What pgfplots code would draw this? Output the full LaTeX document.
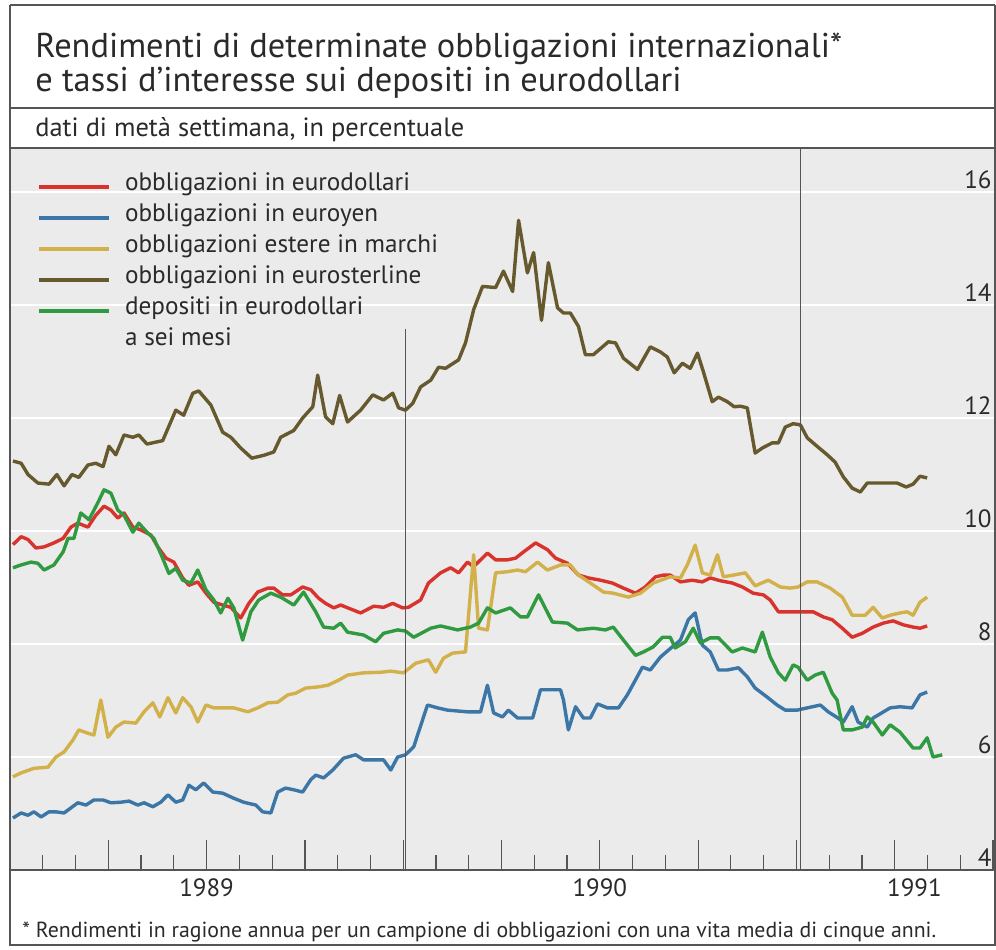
\documentclass[border=0pt]{standalone}
\usepackage{fontspec}
\setmainfont{PT Sans}
\usepackage{pgfplots}
\pgfplotsset{compat=1.18}

\definecolor{cRed}{HTML}{D8332C}
\definecolor{cBlue}{HTML}{3B76A6}
\definecolor{cGold}{HTML}{D2B04A}
\definecolor{cBrown}{HTML}{67592E}
\definecolor{cGreen}{HTML}{2F9A40}
\definecolor{bgGray}{HTML}{EBEBEB}
\definecolor{txt}{HTML}{2A2A2A}
\definecolor{rule}{HTML}{555555}

\begin{document}
\begin{tikzpicture}
\useasboundingbox (0pt,0pt) rectangle (498pt,-474.5pt);
% frame and separators (1 px = 0.5 pt)
\begin{scope}[x=0.5pt,y=-0.5pt]
\draw[rule, line width=0.7pt] (10,5) -- (995,5);
\draw[rule, line width=0.7pt] (10,5) -- (10,945) -- (995,945) -- (995,5);
\draw[rule, line width=0.7pt] (10,108) -- (995,108);
\node[anchor=base west, inner sep=0pt, text=txt, font=\fontsize{17.2}{20}\selectfont] at (35,57) {Rendimenti di determinate obbligazioni internazionali*};
\node[anchor=base west, inner sep=0pt, text=txt, font=\fontsize{17.2}{20}\selectfont] at (35,91) {e tassi d’interesse sui depositi in eurodollari};
\node[anchor=base west, inner sep=0pt, text=txt, font=\fontsize{13.2}{15}\selectfont] at (35,136) {dati di metà settimana, in percentuale};
\node[anchor=base west, inner sep=0pt, text=txt, font=\fontsize{10.9}{12}\selectfont] at (22,937) {* Rendimenti in ragione annua per un campione di obbligazioni con una vita media di cinque anni.};
\end{scope}

\begin{axis}[
  at={(5pt,-435pt)}, anchor=south west,
  scale only axis, width=492.5pt, height=361pt,
  xmin=0, xmax=30.06, ymin=4, ymax=16.78,
  axis background/.style={fill=bgGray},
  axis line style={draw=rule, line width=0.7pt},
  ymajorgrids, grid style={white, line width=1.1pt},
  ytick={4,6,...,16},
  ytick style={draw=none},
  yticklabel pos=right,
  /pgf/number format/assume math mode=true,
  yticklabel style={anchor=base east, inner sep=0pt, xshift=-1.5pt, yshift=2pt, text=txt, font=\fontsize{12.5}{14}\selectfont},
  xtick={0,3,...,30}, xticklabels={},
  minor x tick num=2,
  xtick pos=bottom, tick align=inside,
  major tick length=15pt, minor tick length=7.5pt,
  xtick style={draw=rule, line width=0.6pt},
  extra x ticks={6,18,27.6},
  extra x tick labels={1989,1990,1991},
  extra x tick style={major tick length=0pt, grid=none,
    tick label style={text=txt, font=\fontsize{12.5}{14}\selectfont, yshift=-1pt}},
  legend style={at={(0.021,0.972)}, anchor=north west, draw=none, fill=none,
    font=\fontsize{12.6}{14}\selectfont, text=txt,
    nodes={inner sep=0pt, text height=9pt, text depth=3pt, anchor=west},
    row sep=3.5pt, column sep=7pt},
  legend cell align=left,
  legend image code/.code={\draw[#1, line width=2pt] (0pt,-1pt) -- (35pt,-1pt);},
  every axis plot/.append style={line width=1.7pt, line join=round},
]
\addplot[cRed] coordinates {
(0.09,9.76)(0.34,9.9)(0.55,9.85)(0.79,9.7)(1.04,9.72)(1.34,9.79)(1.62,9.87)(1.86,10.07)(2.07,10.14)(2.38,10.07)
(2.62,10.28)(2.87,10.44)(3.08,10.37)(3.29,10.23)(3.48,10.32)(3.75,10.07)(3.99,10.02)(4.30,9.93)(4.51,9.72)(4.76,9.52)
(5.00,9.45)(5.27,9.17)(5.46,9.04)(5.73,9.1)(5.98,8.9)(6.22,8.74)(6.49,8.69)(6.74,8.65)(7.04,8.46)(7.29,8.72)
(7.56,8.92)(7.87,8.99)(8.05,8.99)(8.32,8.87)(8.57,8.87)(8.93,9.01)(9.18,8.96)(9.42,8.81)(9.63,8.72)(9.88,8.64)
(10.09,8.69)(10.18,8.67)(10.70,8.55)(11.10,8.67)(11.40,8.65)(11.68,8.72)(11.98,8.64)(12.16,8.65)(12.53,8.78)(12.77,9.08)
(13.14,9.26)(13.45,9.35)(13.69,9.26)(13.96,9.45)(14.15,9.37)(14.57,9.61)(14.82,9.49)(15.18,9.49)(15.43,9.52)(15.67,9.63)
(16.04,9.79)(16.40,9.67)(16.65,9.52)(17.01,9.43)(17.35,9.22)(17.65,9.17)(18.02,9.13)(18.38,9.08)(18.72,8.99)(19.09,8.9)
(19.39,9.01)(19.70,9.19)(19.94,9.22)(20.15,9.22)(20.46,9.1)(20.82,9.13)(21.13,9.1)(21.37,9.17)(21.68,9.12)(22.04,9.08)
(22.35,9.01)(22.68,8.9)(22.99,8.87)(23.20,8.78)(23.45,8.57)(23.75,8.57)(24.12,8.57)(24.51,8.57)(24.82,8.48)(25.09,8.43)
(25.40,8.28)(25.70,8.12)(26.01,8.19)(26.34,8.3)(26.65,8.37)(26.95,8.41)(27.26,8.34)(27.56,8.3)(27.77,8.28)(27.99,8.32)
};
\addlegendentry{obbligazioni in eurodollari}
\addplot[cBlue] coordinates {
(0.09,4.92)(0.34,5.01)(0.55,4.97)(0.73,5.03)(0.95,4.94)(1.19,5.03)(1.40,5.03)(1.65,5.01)(1.86,5.1)(2.07,5.19)
(2.32,5.15)(2.56,5.24)(2.84,5.24)(3.08,5.19)(3.38,5.2)(3.63,5.22)(3.90,5.15)(4.09,5.19)(4.36,5.12)(4.60,5.2)
(4.82,5.33)(5.06,5.2)(5.27,5.24)(5.46,5.5)(5.67,5.42)(5.91,5.54)(6.19,5.38)(6.49,5.36)(6.83,5.27)(7.13,5.2)
(7.50,5.15)(7.71,5.03)(7.96,5.01)(8.17,5.38)(8.41,5.45)(8.66,5.42)(8.93,5.38)(9.18,5.6)(9.33,5.68)(9.57,5.63)
(9.85,5.77)(10.18,5.98)(10.55,6.04)(10.79,5.95)(11.40,5.95)(11.62,5.77)(11.83,6.0)(12.07,6.04)(12.32,6.18)(12.74,6.92)
(13.05,6.87)(13.35,6.83)(13.96,6.8)(14.36,6.8)(14.57,7.27)(14.76,6.78)(15.03,6.71)(15.21,6.83)(15.49,6.69)(15.95,6.69)
(16.19,7.19)(16.80,7.19)(16.89,7.01)(17.04,6.48)(17.26,6.89)(17.50,6.69)(17.71,6.69)(17.93,6.94)(18.23,6.87)(18.57,6.87)
(18.84,7.1)(19.30,7.59)(19.54,7.54)(19.85,7.77)(20.09,7.89)(20.46,8.07)(20.70,8.43)(20.91,8.55)(21.13,7.98)(21.37,7.86)
(21.62,7.54)(21.89,7.54)(22.23,7.58)(22.50,7.42)(22.74,7.22)(23.11,7.06)(23.41,6.92)(23.66,6.83)(24.02,6.83)(24.33,6.87)
(24.73,6.92)(24.97,6.8)(25.27,6.69)(25.43,6.62)(25.70,6.89)(25.88,6.62)(26.16,6.53)(26.34,6.69)(26.86,6.87)(27.16,6.89)
(27.53,6.87)(27.77,7.1)(27.99,7.15)
};
\addlegendentry{obbligazioni in euroyen}
\addplot[cGold] coordinates {
(0.09,5.65)(0.34,5.72)(0.73,5.8)(1.16,5.82)(1.40,6.0)(1.65,6.09)(1.92,6.3)(2.10,6.48)(2.38,6.42)(2.56,6.39)
(2.77,7.01)(2.99,6.35)(3.23,6.53)(3.48,6.62)(3.84,6.6)(4.09,6.8)(4.36,6.96)(4.57,6.71)(4.82,7.05)(5.06,6.78)
(5.27,7.05)(5.52,6.89)(5.73,6.62)(5.98,6.92)(6.22,6.87)(6.83,6.87)(7.26,6.8)(7.56,6.87)(7.87,6.96)(8.17,6.97)
(8.48,7.1)(8.72,7.13)(9.02,7.22)(9.39,7.24)(9.70,7.27)(10.03,7.36)(10.30,7.45)(10.79,7.49)(11.31,7.5)(11.62,7.52)
(12.01,7.49)(12.38,7.66)(12.77,7.72)(12.99,7.5)(13.23,7.75)(13.51,7.84)(13.90,7.86)(14.15,9.58)(14.30,8.28)(14.57,8.25)
(14.82,9.26)(15.18,9.28)(15.49,9.31)(15.73,9.28)(16.10,9.45)(16.40,9.31)(16.80,9.4)(17.10,9.4)(17.35,9.22)(17.71,9.08)
(18.11,8.92)(18.41,8.9)(18.87,8.83)(19.24,8.9)(19.63,9.08)(20.15,9.19)(20.46,9.17)(20.67,9.4)(20.91,9.75)(21.13,9.26)
(21.37,9.22)(21.59,9.58)(21.77,9.19)(22.07,9.22)(22.44,9.26)(22.74,9.03)(23.14,9.13)(23.51,9.01)(23.81,8.99)(24.05,9.01)
(24.33,9.1)(24.63,9.1)(25.03,8.99)(25.40,8.83)(25.70,8.51)(26.10,8.51)(26.34,8.65)(26.62,8.46)(26.86,8.51)(27.16,8.55)
(27.38,8.57)(27.56,8.51)(27.77,8.74)(27.99,8.83)
};
\addlegendentry{obbligazioni estere in marchi}
\addplot[cBrown] coordinates {
(0.09,11.24)(0.34,11.2)(0.55,11.0)(0.85,10.85)(1.19,10.83)(1.43,11.0)(1.65,10.8)(1.89,11.0)(2.10,10.95)(2.38,11.17)
(2.62,11.2)(2.84,11.14)(3.02,11.5)(3.23,11.35)(3.48,11.7)(3.75,11.66)(3.93,11.7)(4.18,11.54)(4.66,11.6)(5.06,12.14)
(5.30,12.05)(5.58,12.44)(5.76,12.48)(6.13,12.23)(6.49,11.75)(6.74,11.66)(7.04,11.47)(7.38,11.29)(7.74,11.34)(8.05,11.4)
(8.26,11.66)(8.66,11.78)(8.93,12.0)(9.24,12.2)(9.39,12.76)(9.63,12.02)(9.85,11.9)(10.06,12.4)(10.30,11.93)(10.70,12.14)
(11.07,12.41)(11.40,12.32)(11.68,12.44)(11.86,12.18)(12.07,12.14)(12.29,12.26)(12.53,12.55)(12.84,12.67)(13.08,12.9)(13.29,12.88)
(13.69,13.03)(13.90,13.33)(14.15,13.92)(14.42,14.33)(14.82,14.31)(15.06,14.6)(15.34,14.24)(15.52,15.5)(15.79,14.57)(15.98,14.93)
(16.22,13.73)(16.43,14.75)(16.71,13.95)(16.89,13.86)(17.10,13.86)(17.35,13.62)(17.56,13.12)(17.80,13.12)(18.26,13.35)(18.48,13.33)
(18.72,13.06)(19.15,12.86)(19.54,13.26)(19.85,13.17)(20.06,13.08)(20.27,12.8)(20.52,12.97)(20.76,12.88)(20.98,13.15)(21.16,12.82)
(21.43,12.29)(21.62,12.37)(21.89,12.29)(22.10,12.2)(22.29,12.21)(22.50,12.18)(22.74,11.38)(22.96,11.47)(23.26,11.56)(23.45,11.56)
(23.66,11.84)(23.90,11.9)(24.12,11.88)(24.33,11.65)(24.63,11.5)(24.94,11.35)(25.18,11.22)(25.43,10.96)(25.70,10.76)(25.95,10.69)
(26.16,10.85)(26.46,10.85)(27.07,10.85)(27.35,10.78)(27.56,10.83)(27.77,10.97)(27.99,10.94)
};
\addlegendentry{obbligazioni in eurosterline}
\addplot[cGreen] coordinates {
(0.09,9.35)(0.34,9.4)(0.64,9.45)(0.85,9.43)(1.04,9.31)(1.34,9.4)(1.62,9.63)(1.77,9.87)(1.95,9.87)(2.16,10.32)
(2.41,10.2)(2.68,10.5)(2.87,10.73)(3.08,10.67)(3.29,10.37)(3.48,10.28)(3.75,9.98)(3.93,10.14)(4.21,9.96)(4.39,9.87)
(4.60,9.6)(4.85,9.25)(5.06,9.34)(5.27,9.13)(5.52,9.08)(5.73,9.31)(5.98,8.96)(6.22,8.78)(6.43,8.55)(6.65,8.81)
(6.83,8.64)(7.10,8.07)(7.35,8.57)(7.59,8.78)(7.96,8.9)(8.26,8.83)(8.66,8.69)(8.96,8.92)(9.33,8.57)(9.57,8.3)
(9.88,8.28)(10.09,8.37)(10.30,8.21)(10.79,8.16)(11.16,8.04)(11.40,8.19)(11.83,8.25)(12.07,8.23)(12.32,8.12)(12.84,8.28)
(13.14,8.32)(13.66,8.25)(14.05,8.3)(14.30,8.37)(14.57,8.64)(14.82,8.55)(15.27,8.64)(15.58,8.48)(15.79,8.48)(16.13,8.87)
(16.55,8.39)(17.01,8.37)(17.32,8.25)(17.80,8.28)(18.17,8.25)(18.41,8.3)(18.72,8.07)(19.09,7.8)(19.33,7.86)(19.63,7.95)
(19.91,8.12)(20.15,8.12)(20.30,7.93)(20.61,8.04)(20.85,8.28)(21.07,8.02)(21.37,8.11)(21.62,8.11)(22.04,7.86)(22.35,7.93)
(22.74,7.86)(22.96,8.21)(23.20,7.77)(23.45,7.49)(23.66,7.36)(23.90,7.63)(24.05,7.59)(24.33,7.36)(24.57,7.45)(24.82,7.5)
(25.09,7.13)(25.24,7.01)(25.43,6.48)(25.70,6.48)(26.01,6.53)(26.16,6.71)(26.34,6.62)(26.62,6.39)(26.86,6.57)(27.16,6.44)
(27.56,6.16)(27.77,6.16)(27.99,6.34)(28.17,6.0)(28.45,6.04)
};
\addlegendentry{depositi in eurodollari}
\addlegendimage{empty legend}
\addlegendentry{a sei mesi}
\draw[rule, line width=0.7pt] (axis cs:12.07,4) -- (axis cs:12.07,13.57);
\draw[rule, line width=0.7pt] (axis cs:24.12,4) -- (axis cs:24.12,16.78);
\end{axis}
\end{tikzpicture}
\end{document}
